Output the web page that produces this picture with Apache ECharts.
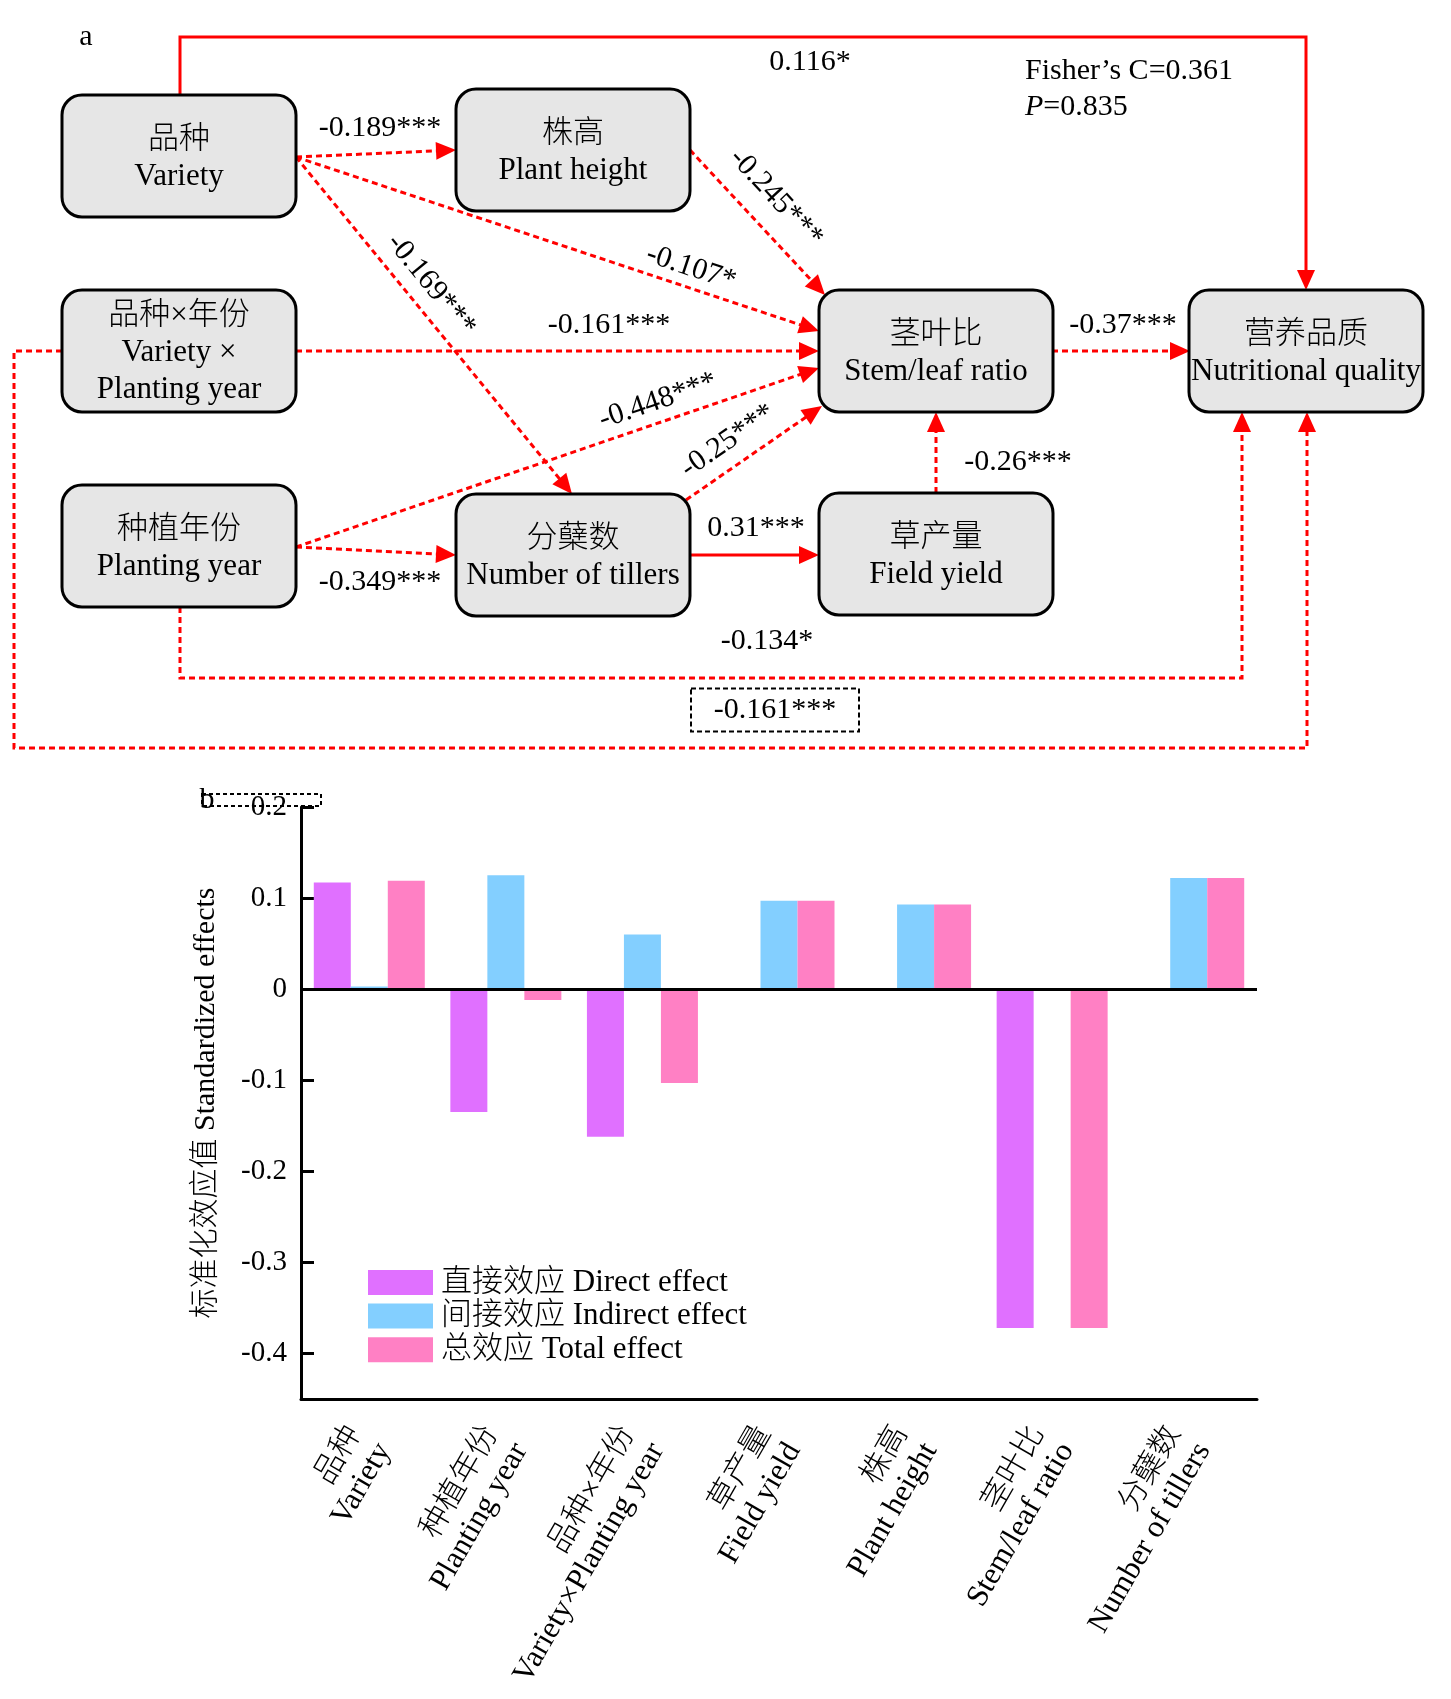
<!DOCTYPE html>
<html><head><meta charset="utf-8">
<script src="https://cdn.jsdelivr.net/npm/echarts@6/dist/echarts.min.js"></script>
<style>html,body{margin:0;padding:0;background:#fff}#c{width:1451px;height:1699px}</style>
</head><body><div id="c"></div>
<script>
// ---------- DATA (a): path diagram ----------
const nodeCn = ['品种','株高','品种×年份','茎叶比','营养品质','种植年份','分蘖数','草产量'];
const nodeEn = ['Variety','Plant height','Variety ×\nPlanting year','Stem/leaf ratio','Nutritional quality','Planting year','Number of tillers','Field yield'];
const pathFrom = [0,0,0,1,2,5,5,6,6,7,3,0,5,2];
const pathTo   = [1,3,6,3,3,3,6,3,7,3,4,4,4,4];
const pathCoef = [-0.189,-0.107,-0.169,-0.245,-0.161,-0.448,-0.349,-0.25,0.31,-0.26,-0.37,0.116,-0.134,-0.161];
const pathSig  = ['***','*','***','***','***','***','***','***','***','***','***','*','*','***'];
const fisherC = 0.361;
const fisherP = 0.835;

// ---------- DATA (b): standardized effects ----------
const effectCategoriesCn = ['品种','种植年份','品种×年份','草产量','株高','茎叶比','分蘖数'];
const effectCategoriesEn = ['Variety','Planting year','Variety×Planting year','Field yield','Plant height','Stem/leaf ratio','Number of tillers'];
const directEffect   = [0.117,-0.135,-0.162,null,null,-0.372,null];
const indirectEffect = [0.003,0.125,0.060,0.097,0.093,null,0.122];
const totalEffect    = [0.119,-0.012,-0.103,0.097,0.093,-0.372,0.122];
const seriesNames = ['直接效应 Direct effect','间接效应 Indirect effect','总效应 Total effect'];

// ---------- LAYOUT (positions / styles, diagram coordinate space) ----------
const FONT = '"Liberation Serif", "Noto Sans CJK SC", serif';
const RED = '#ff0000';
const LAYOUT = {
  boxW: 234, boxH: 122, boxR: 20,
  nodes: [[179,156],[573,150],[179,351],[936,351],[1306,351],[179,546],[573,555],[936,554]],
  routes: [
    [[296,157],[456,150]],
    [[296,157],[819,331]],
    [[296,157],[572,494]],
    [[690,150],[825,295]],
    [[296,351],[819,351]],
    [[296,547],[819,368]],
    [[296,547],[456,555]],
    [[686,500],[822,406]],
    [[690,555],[819,555]],
    [[936,493],[936,412]],
    [[1052,351],[1190,351]],
    [[180,95],[180,37],[1306,37],[1306,290]],
    [[180,607],[180,678],[1242,678],[1242,412]],
    [[62,351],[14,351],[14,748],[1307,748],[1307,412]]
  ],
  labels: [[380,128,0],[691,268,1],[431,285,1],[776,198,1],[609,325,0],[658,401,1],[380,582,0],[728,441,1],[756,528,0],[1018,462,0],[1123,325,0],[810,62,0],[767,641,0],[775,710,0]],
  boxedLabel: 13,
  arrowLen: 20, arrowHalfW: 9
};

function renderEdge(params, api) {
  const i = params.dataIndex;
  const pts = LAYOUT.routes[i].map(p => api.coord(p));
  const n = pts.length;
  const a = pts[n-2], b = pts[n-1];
  const dx = b[0]-a[0], dy = b[1]-a[1], L = Math.hypot(dx, dy);
  const ux = dx/L, uy = dy/L;
  const AL = LAYOUT.arrowLen, AW = LAYOUT.arrowHalfW;
  const base = [b[0]-ux*AL, b[1]-uy*AL];
  const neg = pathCoef[i] < 0;
  const linePts = pts.slice(0, n-1).concat([[base[0]+ux*3, base[1]+uy*3]]);
  const kids = [
    {type:'polyline', shape:{points: linePts}, style:{stroke: RED, lineWidth: 3, fill: 'none', lineDash: neg ? [6,4] : null}},
    {type:'polygon', shape:{points:[b,[base[0]-uy*AW, base[1]+ux*AW],[base[0]+uy*AW, base[1]-ux*AW]]}, style:{fill: RED}}
  ];
  const lab = LAYOUT.labels[i];
  const c = api.coord([lab[0], lab[1]]);
  let rot = 0;
  if (lab[2]) { rot = -Math.atan2(pts[n-1][1]-pts[0][1], pts[n-1][0]-pts[0][0]); }
  kids.push({type:'text', x:c[0], y:c[1], rotation: rot,
    style:{text: String(pathCoef[i]) + pathSig[i], fontSize: 30, fontFamily: FONT, fill:'#000', align:'center', verticalAlign:'middle'}});
  if (i === LAYOUT.boxedLabel) {
    kids.push({type:'rect', shape:{x:c[0]-84, y:c[1]-21.5, width:168, height:43},
      style:{fill:'none', stroke:'#000', lineWidth:2, lineDash:[5,3]}});
  }
  return {type:'group', children: kids};
}

function renderNode(params, api) {
  const i = params.dataIndex;
  const ctr = LAYOUT.nodes[i];
  const tl = api.coord([ctr[0]-LAYOUT.boxW/2, ctr[1]-LAYOUT.boxH/2]);
  const br = api.coord([ctr[0]+LAYOUT.boxW/2, ctr[1]+LAYOUT.boxH/2]);
  const c = api.coord(ctr);
  return {type:'group', children:[
    {type:'rect', shape:{x:tl[0], y:tl[1], width:br[0]-tl[0], height:br[1]-tl[1], r:LAYOUT.boxR},
      style:{fill:'#e6e6e6', stroke:'#000', lineWidth:3}},
    {type:'text', x:c[0], y:c[1]+2,
      style:{text: nodeCn[i] + '\n' + nodeEn[i], fontSize:31, fontWeight:300, fontFamily:FONT, lineHeight:37, fill:'#000', align:'center', verticalAlign:'middle'}}
  ]};
}

const chart = echarts.init(document.getElementById('c'), null, {renderer:'canvas'});
const xLabels = effectCategoriesCn.map((c, i) => c + '\n' + effectCategoriesEn[i]);

const option = {
  animation: false,
  backgroundColor: '#fff',
  textStyle: {fontFamily: FONT, color:'#000'},
  grid: [
    {left:301, top:807, width:956, height:592, outerBoundsMode:'none', containLabel:false},
    {left:0, top:0, width:1451, height:1699, outerBoundsMode:'none', containLabel:false}
  ],
  legend: {
    orient:'vertical', left:368, top:1267, padding:0, itemGap:2.6,
    itemWidth:65, itemHeight:25, icon:'rect', data: seriesNames,
    textStyle:{fontSize:31, fontWeight:300, lineHeight:25, fontFamily:FONT, color:'#000', padding:[0,0,0,3]}
  },
  xAxis: [
    {type:'category', gridIndex:0, data: xLabels, boundaryGap:true,
     axisLine:{onZero:false, lineStyle:{color:'#000', width:3}},
     axisTick:{inside:true, alignWithLabel:true, length:15, lineStyle:{color:'#000', width:3}},
     axisLabel:{rotate:60, interval:0, fontSize:31, fontWeight:300, lineHeight:34, fontFamily:FONT, color:'#000', margin:38},
     splitLine:{show:false}},
    {type:'value', gridIndex:1, min:0, max:1451, show:false}
  ],
  yAxis: [
    {type:'value', gridIndex:0, min:-0.45, max:0.2, splitNumber:7,
     axisLine:{show:true, onZero:false, lineStyle:{color:'#000', width:3}},
     axisTick:{show:true, inside:true, length:13, lineStyle:{color:'#000', width:3}},
     axisLabel:{fontSize:29, fontFamily:FONT, color:'#000', margin:14,
       formatter: v => (Math.abs(v*10 - Math.round(v*10)) < 1e-6) ? String(Math.round(v*10)/10) : ''},
     splitLine:{show:false},
     name:'标准化效应值 Standardized effects', nameLocation:'middle', nameRotate:90, nameGap:80,
     nameTextStyle:{fontSize:30, fontWeight:300, fontFamily:FONT, color:'#000'}},
    {type:'value', gridIndex:1, min:0, max:1699, inverse:true, show:false}
  ],
  series: [
    {name: seriesNames[0], type:'bar', xAxisIndex:0, yAxisIndex:0, data: directEffect,
     barWidth:37, barGap:'0%', itemStyle:{color:'#E070FF'},
     markLine:{silent:true, symbol:['none','none'], label:{show:false},
       lineStyle:{color:'#000', width:3, type:'solid'}, data:[{yAxis:0}]}},
    {name: seriesNames[1], type:'bar', xAxisIndex:0, yAxisIndex:0, data: indirectEffect,
     barWidth:37, barGap:'0%', itemStyle:{color:'#83CFFF'}},
    {name: seriesNames[2], type:'bar', xAxisIndex:0, yAxisIndex:0, data: totalEffect,
     barWidth:37, barGap:'0%', itemStyle:{color:'#FF80C4'}},
    {type:'custom', coordinateSystem:'cartesian2d', xAxisIndex:1, yAxisIndex:1, z:2, silent:true,
     data: pathCoef.map((c, i) => [pathFrom[i], pathTo[i]]), renderItem: renderEdge},
    {type:'custom', coordinateSystem:'cartesian2d', xAxisIndex:1, yAxisIndex:1, z:3, silent:true,
     data: nodeCn.map((c, i) => [i, i]), renderItem: renderNode}
  ],
  graphic: [
    {type:'text', x:86, y:37, style:{text:'a', fontSize:30, fontFamily:FONT, fill:'#000', align:'center', verticalAlign:'middle'}},
    {type:'text', x:1025, y:71, style:{text:'Fisher’s C=' + fisherC, fontSize:30, fontFamily:FONT, fill:'#000', align:'left', verticalAlign:'middle'}},
    {type:'text', x:1025, y:107, style:{text:'{i|P}=' + fisherP, fontSize:30, fontFamily:FONT, fill:'#000', align:'left', verticalAlign:'middle',
      rich:{i:{fontStyle:'italic', fontSize:30, fontFamily:FONT, fill:'#000'}}}},
    {type:'text', x:207, y:800, style:{text:'b', fontSize:30, fontFamily:FONT, fill:'#000', align:'center', verticalAlign:'middle'}},
    {type:'rect', shape:{x:202, y:794, width:119, height:12}, style:{fill:'none', stroke:'#000', lineWidth:2, lineDash:[4,3]}}
  ]
};
chart.setOption(option);
</script></body></html>
